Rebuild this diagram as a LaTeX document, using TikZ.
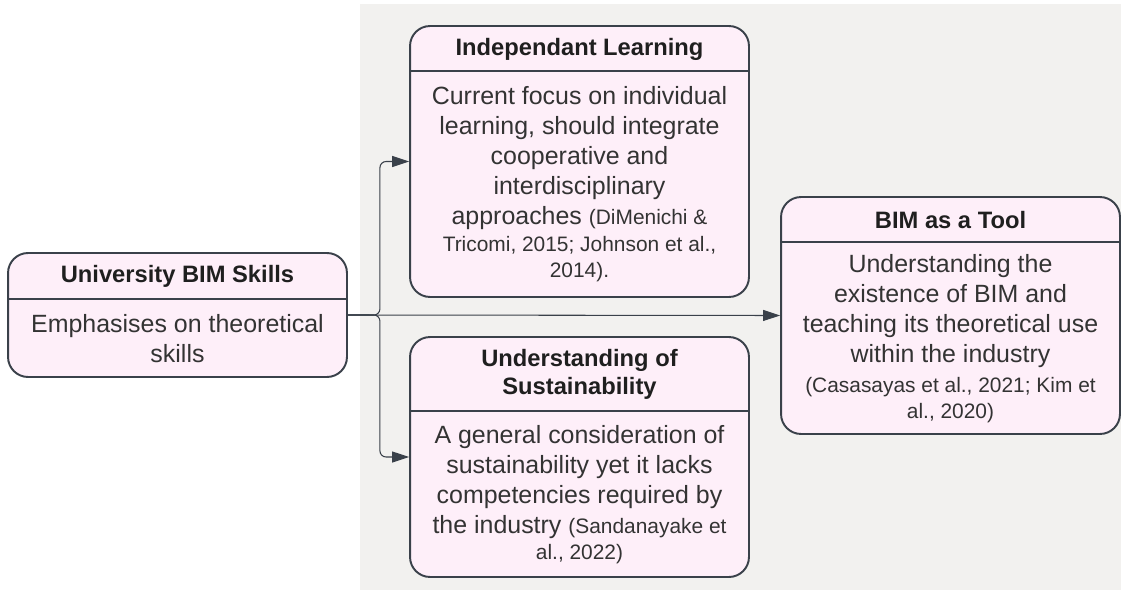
\documentclass[tikz,border=0pt]{standalone}
\usepackage{fontspec}
\setmainfont{Liberation Sans}
\usepackage{xcolor}
\usetikzlibrary{arrows.meta, positioning, calc}
\definecolor{cardfill}{RGB}{254,239,249}
\definecolor{cardline}{RGB}{58,65,74}
\definecolor{panelgrey}{RGB}{242,241,239}
\newcommand{\smallcite}{\fontsize{11.9}{14.8}\selectfont}
\tikzset{
    card/.style={draw=cardline, fill=cardfill, line width=1.1pt, rounded corners=0.4cm, minimum width=6.78cm, inner sep=0pt},
    divider/.style={draw=cardline, line width=1.1pt},
    headtext/.style={font=\fontsize{13.5}{16}\selectfont\bfseries, text=black!88, align=center, inner sep=0pt},
    bodytext/.style={font=\fontsize{14.2}{17.1}\selectfont, text=black!80, align=center, inner sep=0pt},
    link/.style={draw=cardline, line width=0.6pt, rounded corners=3.5pt, -{Triangle[length=0.34cm, width=0.22cm]}}
}

\begin{document}
\begin{tikzpicture}[x=0.02cm, y=-0.02cm]
    \useasboundingbox (0,0) rectangle (1121,591);
    % grey panel behind the right part
    \fill[panelgrey] (360,4) rectangle (1121,590);

    % University BIM Skills
    \node[card, minimum height=2.48cm] (uni) at (177.5,315) {};
    \draw[divider] ($(uni.north west)+(0,47)$) -- ($(uni.north east)+(0,47)$);
    \node[headtext] (unihead) at (177.5,276.5) {University BIM Skills};
    \node[bodytext] (unibody) at (177.5,338.5) {Emphasises on theoretical\\skills};

    % Independant Learning
    \node[card, minimum height=5.42cm] (indep) at (579.5,161.5) {};
    \draw[divider] ($(indep.north west)+(0,46)$) -- ($(indep.north east)+(0,46)$);
    \node[headtext] (indephead) at (579.5,49) {Independant Learning};
    \node[bodytext] (indepbody) at (579.5,184.5) {Current focus on individual\\learning, should integrate\\cooperative and\\interdisciplinary\\approaches {\smallcite(DiMenichi \&}\\[-2pt]{\smallcite Tricomi, 2015; Johnson et al.,}\\[-2pt]{\smallcite 2014).}};

    % Understanding of Sustainability
    \node[card, minimum height=4.8cm] (sust) at (579.5,457) {};
    \draw[divider] ($(sust.north west)+(0,75)$) -- ($(sust.north east)+(0,75)$);
    \node[headtext] (susthead) at (579.5,374.5) {Understanding of\\Sustainability};
    \node[bodytext] (sustbody) at (579.5,494.5) {A general consideration of\\sustainability yet it lacks\\competencies required by\\the industry {\smallcite(Sandanayake et}\\[-2pt]{\smallcite al., 2022)}};

    % BIM as a Tool
    \node[card, minimum height=4.74cm] (bimtool) at (950.5,315.5) {};
    \draw[divider] ($(bimtool.north west)+(0,46)$) -- ($(bimtool.north east)+(0,46)$);
    \node[headtext] (bimhead) at (950.5,220) {BIM as a Tool};
    \node[bodytext] (bimbody) at (950.5,338.5) {Understanding the\\existence of BIM and\\teaching its theoretical use\\within the industry\\{\smallcite(Casasayas et al., 2021; Kim et}\\[-2pt]{\smallcite al., 2020)}};

    % connectors
    \draw[link] (uni.east) -- (bimtool.west);
    \draw[link] (uni.east) -- ++(32,0) |- (indep.west);
    \draw[link] (uni.east) -- ++(32,0) |- (sust.west);
\end{tikzpicture}
\end{document}
